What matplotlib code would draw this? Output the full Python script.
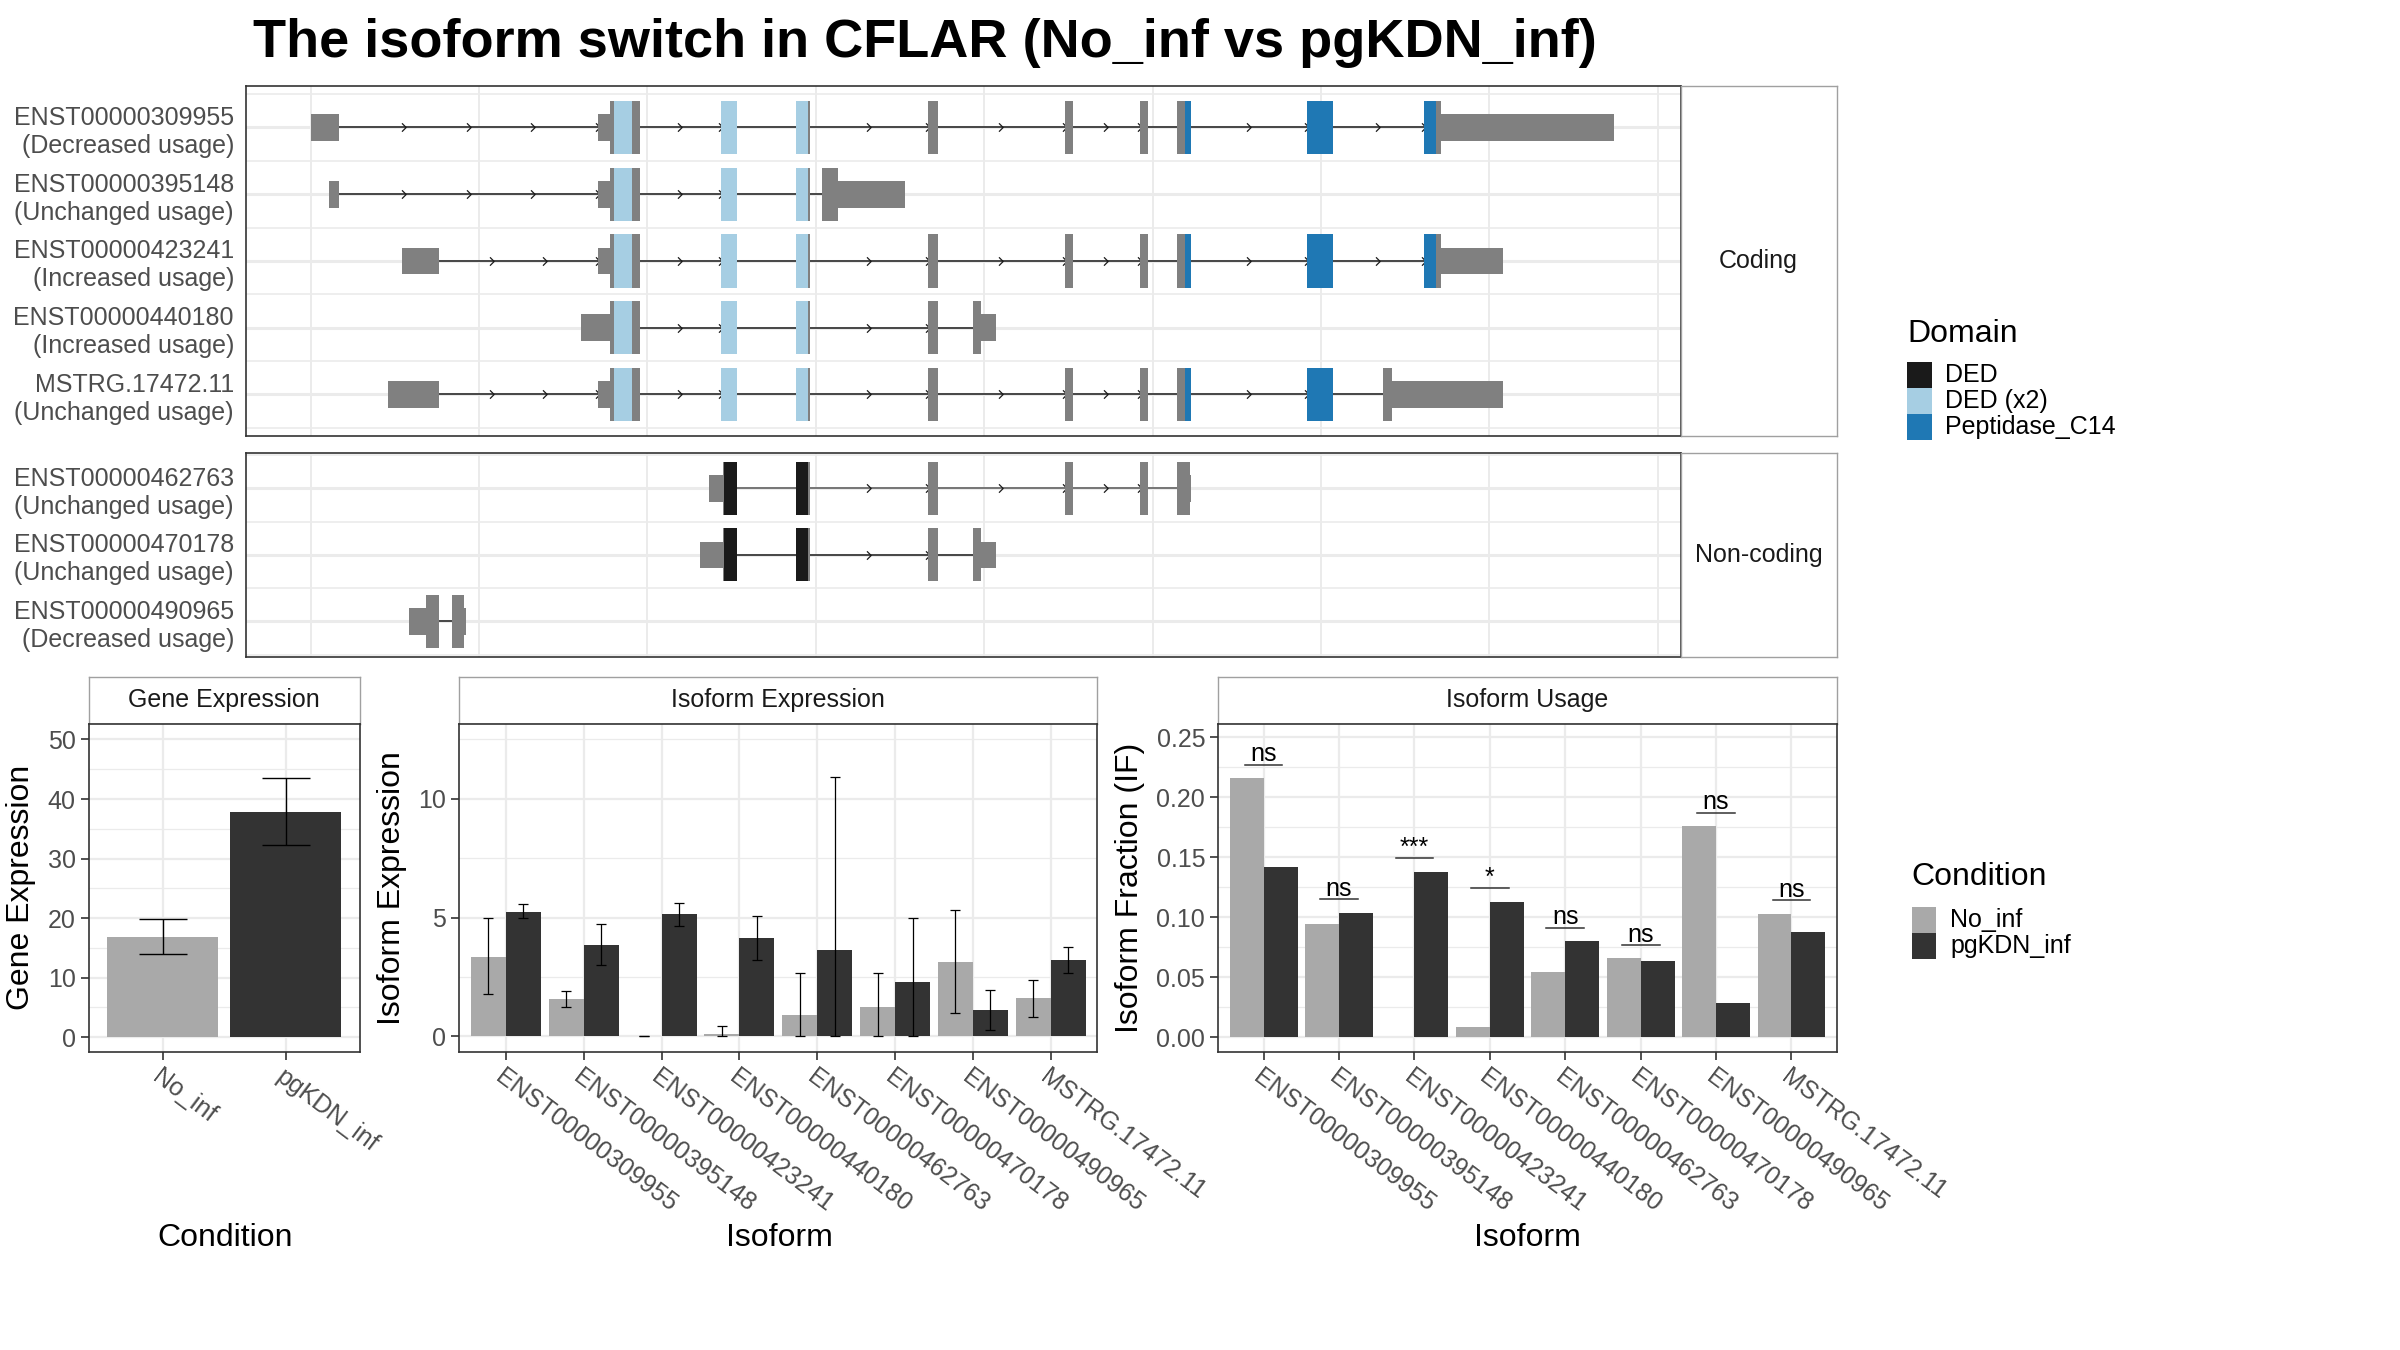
import math
import numpy as np
import matplotlib
matplotlib.use("Agg")
import matplotlib.pyplot as plt
from matplotlib.patches import Rectangle

plt.rcParams['font.family'] = ['Liberation Sans', 'DejaVu Sans']

# -----------------------------
# DATA
# -----------------------------
conditions = ['No_inf', 'pgKDN_inf']
cond_colors = ['#a9a9a9', '#333333']

gene_expr = [16.9, 37.8]
gene_lo = [14.0, 32.2]
gene_hi = [19.8, 43.5]

isoforms = ['ENST00000309955', 'ENST00000395148', 'ENST00000423241', 'ENST00000440180',
            'ENST00000462763', 'ENST00000470178', 'ENST00000490965', 'MSTRG.17472.11']

iso_no = [3.36, 1.56, 0.0, 0.11, 0.88, 1.22, 3.13, 1.60]
iso_no_lo = [1.77, 1.23, 0.0, 0.0, 0.0, 0.0, 0.99, 0.81]
iso_no_hi = [4.99, 1.91, 0.0, 0.45, 2.65, 2.66, 5.30, 2.39]
iso_pg = [5.24, 3.85, 5.13, 4.15, 3.64, 2.28, 1.09, 3.21]
iso_pg_lo = [4.99, 3.00, 4.65, 3.23, 0.0, 0.0, 0.28, 2.66]
iso_pg_hi = [5.57, 4.73, 5.60, 5.06, 10.9, 4.97, 1.93, 3.75]

usage_no = [0.216, 0.094, 0.0, 0.0087, 0.054, 0.0657, 0.1756, 0.1026]
usage_pg = [0.142, 0.1035, 0.1379, 0.1127, 0.080, 0.0632, 0.0288, 0.0875]
sig_labels = ['ns', 'ns', '***', '*', 'ns', 'ns', 'ns', 'ns']
sig_y = [0.227, 0.115, 0.149, 0.124, 0.091, 0.0767, 0.1868, 0.114]

# transcript structures (x in arbitrary genomic units, one unit per grid line)
coding_ids = ['ENST00000309955', 'ENST00000395148', 'ENST00000423241',
              'ENST00000440180', 'MSTRG.17472.11']
coding_usage = ['Decreased', 'Unchanged', 'Increased', 'Increased', 'Unchanged']
noncoding_ids = ['ENST00000462763', 'ENST00000470178', 'ENST00000490965']
noncoding_usage = ['Unchanged', 'Unchanged', 'Decreased']

exons_309955 = [(0.0, 0.17), (1.705, 1.955), (2.435, 2.529), (2.885, 2.968), (3.667, 3.724),
                (4.48, 4.525), (4.926, 4.97), (5.146, 5.229), (5.917, 6.072), (6.609, 7.743)]
exons_395148 = [(0.11, 0.17), (1.705, 1.955), (2.435, 2.529), (2.885, 2.968), (3.036, 3.527)]
exons_423241 = [(0.541, 0.76), (1.705, 1.955), (2.435, 2.529), (2.885, 2.968), (3.667, 3.724),
                (4.48, 4.525), (4.926, 4.97), (5.146, 5.229), (5.917, 6.072), (6.609, 7.081)]
exons_440180 = [(1.603, 1.955), (2.435, 2.529), (2.885, 2.968), (3.667, 3.724), (3.932, 4.068)]
exons_mstrg = [(0.457, 0.76), (1.705, 1.955), (2.435, 2.529), (2.885, 2.968), (3.667, 3.724),
               (4.48, 4.525), (4.926, 4.97), (5.146, 5.229), (5.917, 6.072), (6.37, 7.081)]
exons_462763 = [(2.367, 2.529), (2.885, 2.968), (3.667, 3.724), (4.48, 4.525),
                (4.926, 4.97), (5.146, 5.229)]
exons_470178 = [(2.31, 2.529), (2.885, 2.968), (3.667, 3.724), (3.932, 4.068)]
exons_490965 = [(0.582, 0.76), (0.839, 0.92)]

cds_coding = [(1.78, 6.711), (1.78, 3.134), (1.78, 6.711), (1.78, 3.981), (1.78, 6.423)]
cds_noncoding = [(2.447, 5.22), (2.447, 3.981), (0.684, 0.911)]

dom_ded2 = [(1.803, 1.909), (2.435, 2.529), (2.885, 2.953)]
dom_pep_full = [(5.195, 5.229), (5.917, 6.072), (6.609, 6.684)]
dom_pep_short = [(5.195, 5.229), (5.917, 6.072)]
dom_ded = [(2.457, 2.529), (2.885, 2.953)]

domain_names = ['DED', 'DED (x2)', 'Peptidase_C14']
domain_colors = ['#1a1a1a', '#a6cee3', '#1f78b4']

# -----------------------------
# STYLE
# -----------------------------
W, H = 1568.0, 882.0  # layout measured on a scaled copy
EXON = '#808080'
GRID = '#ebebeb'
BORDER = '#333333'
STRIP_EDGE = '#a0a0a0'
TICK_TXT = '#4d4d4d'
FS_TXT = 18
FS_TITLE = 23

fig = plt.figure(figsize=(24, 13.5), dpi=100)


def frect(x0, y0, x1, y1):
    return [x0 / W, 1 - y1 / H, (x1 - x0) / W, (y1 - y0) / H]


def style_panel(ax):
    for s in ax.spines.values():
        s.set_color(BORDER)
        s.set_linewidth(1.2)
    ax.set_axisbelow(True)


def add_strip(rect, text):
    sa = fig.add_axes(rect)
    sa.set_xticks([])
    sa.set_yticks([])
    for s in sa.spines.values():
        s.set_color(STRIP_EDGE)
        s.set_linewidth(1.0)
    sa.text(0.5, 0.5, text, ha='center', va='center', fontsize=FS_TXT,
            color='#1a1a1a', transform=sa.transAxes)
    return sa


chevron = [(-0.6, 1.0), (0.4, 0.0), (-0.6, -1.0)]


def draw_transcript(ax, y, exons, cds, domains, line_color='#1a1a1a'):
    ax.plot([exons[0][1], exons[-1][0]], [y, y], color=line_color, lw=1.1, zorder=2)
    for (a0, a1), (b0, b1) in zip(exons[:-1], exons[1:]):
        length = b0 - a1
        if length < 0.38:
            continue
        n = math.ceil(length / 0.385)
        xs = [b0 - k * length / n for k in range(n)]
        ax.plot(xs, [y] * n, ls='none', marker=chevron, ms=6, mec='#1a1a1a',
                mfc='none', mew=0.9, zorder=3)
    for s, e in exons:
        ax.barh(y, e - s, left=s, height=0.4, color=EXON, lw=0, zorder=4)
        cs, ce = max(s, cds[0]), min(e, cds[1])
        if ce > cs:
            ax.barh(y, ce - cs, left=cs, height=0.8, color=EXON, lw=0, zorder=4)
    for (s, e), c in domains:
        ax.barh(y, e - s, left=s, height=0.8, color=c, lw=0, zorder=5)


def structure_axes(rect, n_rows, ylim):
    ax = fig.add_axes(rect)
    style_panel(ax)
    ax.set_xlim(-0.382, 8.136)
    ax.set_ylim(*ylim)
    ax.set_xticks(np.arange(0, 9))
    ax.set_yticks(np.arange(1, n_rows + 1))
    ax.set_yticks(np.arange(0.5, n_rows + 1, 1.0), minor=True)
    ax.grid(axis='x', which='major', color=GRID, lw=1.4)
    ax.grid(axis='y', which='major', color=GRID, lw=2.2)
    ax.grid(axis='y', which='minor', color=GRID, lw=1.2)
    ax.tick_params(axis='both', which='both', length=0, labelbottom=False)
    ax.tick_params(axis='y', labelsize=FS_TXT, labelcolor=TICK_TXT, pad=9)
    return ax


# -----------------------------
# TRANSCRIPT STRUCTURE - CODING
# -----------------------------
ax_c = structure_axes(frect(161, 56, 1098, 285), 5, (0.375, 5.625))
coding_exons = [exons_309955, exons_395148, exons_423241, exons_440180, exons_mstrg]
coding_doms = [
    [(d, domain_colors[1]) for d in dom_ded2] + [(d, domain_colors[2]) for d in dom_pep_full],
    [(d, domain_colors[1]) for d in dom_ded2],
    [(d, domain_colors[1]) for d in dom_ded2] + [(d, domain_colors[2]) for d in dom_pep_full],
    [(d, domain_colors[1]) for d in dom_ded2],
    [(d, domain_colors[1]) for d in dom_ded2] + [(d, domain_colors[2]) for d in dom_pep_short],
]
n_c = len(coding_ids)
for i in range(n_c):
    draw_transcript(ax_c, n_c - i, coding_exons[i], cds_coding[i], coding_doms[i])
ax_c.set_yticklabels([f"{t}\n({u} usage)" for t, u in zip(coding_ids, coding_usage)][::-1],
                     linespacing=1.2)
add_strip(frect(1098, 56, 1200, 285), 'Coding')

# -----------------------------
# TRANSCRIPT STRUCTURE - NON-CODING
# -----------------------------
ax_n = structure_axes(frect(161, 296, 1098, 429), 3, (0.47, 3.53))
noncoding_exons = [exons_462763, exons_470178, exons_490965]
noncoding_doms = [
    [(d, domain_colors[0]) for d in dom_ded],
    [(d, domain_colors[0]) for d in dom_ded],
    [],
]
noncoding_line = ['#555555', '#1a1a1a', '#1a1a1a']
n_n = len(noncoding_ids)
for i in range(n_n):
    draw_transcript(ax_n, n_n - i, noncoding_exons[i], cds_noncoding[i], noncoding_doms[i],
                    noncoding_line[i])
ax_n.set_yticklabels([f"{t}\n({u} usage)" for t, u in zip(noncoding_ids, noncoding_usage)][::-1],
                     linespacing=1.2)
add_strip(frect(1098, 296, 1200, 429), 'Non-coding')


# -----------------------------
# BOTTOM PANELS
# -----------------------------
def bar_axes(x0, x1, strip_text):
    add_strip(frect(x0, 442, x1, 473), strip_text)
    ax = fig.add_axes(frect(x0, 473, x1, 687))
    style_panel(ax)
    ax.grid(which='major', color=GRID, lw=1.6)
    ax.grid(axis='y', which='minor', color=GRID, lw=0.9)
    ax.tick_params(axis='both', which='major', direction='out', length=6, width=1.2,
                   color=BORDER, labelsize=FS_TXT, labelcolor=TICK_TXT)
    ax.tick_params(axis='both', which='minor', length=0)
    return ax


# Gene expression
ax_g = bar_axes(58, 235, 'Gene Expression')
xg = np.arange(1, 3)
ax_g.bar(xg, gene_expr, width=0.9, color=cond_colors, zorder=2)
ax_g.errorbar(xg, gene_expr,
              yerr=[np.array(gene_expr) - np.array(gene_lo), np.array(gene_hi) - np.array(gene_expr)],
              fmt='none', ecolor='black', elinewidth=1.0, capsize=17, capthick=1.0, zorder=3)
ax_g.set_xlim(0.4, 2.6)
ax_g.set_ylim(-2.4, 52.6)
ax_g.set_yticks(np.arange(0, 51, 10))
ax_g.set_yticks(np.arange(5, 51, 10), minor=True)
ax_g.set_xticks(xg)
ax_g.set_xticklabels(conditions, rotation=-37, ha='left', va='top', rotation_mode='anchor')

# Isoform expression
ax_i = bar_axes(300, 717, 'Isoform Expression')
xi = np.arange(1, len(isoforms) + 1)
ax_i.bar(xi - 0.225, iso_no, width=0.45, color=cond_colors[0], zorder=2)
ax_i.bar(xi + 0.225, iso_pg, width=0.45, color=cond_colors[1], zorder=2)
ax_i.errorbar(xi - 0.225, iso_no,
              yerr=[np.array(iso_no) - np.array(iso_no_lo), np.array(iso_no_hi) - np.array(iso_no)],
              fmt='none', ecolor='black', elinewidth=0.9, capsize=3.5, capthick=0.9, zorder=3)
ax_i.errorbar(xi + 0.225, iso_pg,
              yerr=[np.array(iso_pg) - np.array(iso_pg_lo), np.array(iso_pg_hi) - np.array(iso_pg)],
              fmt='none', ecolor='black', elinewidth=0.9, capsize=3.5, capthick=0.9, zorder=3)
ax_i.set_xlim(0.4, len(isoforms) + 0.6)
ax_i.set_ylim(-0.64, 13.15)
ax_i.set_yticks([0, 5, 10])
ax_i.set_yticks([2.5, 7.5, 12.5], minor=True)
ax_i.set_xticks(xi)
ax_i.set_xticklabels(isoforms, rotation=-37, ha='left', va='top', rotation_mode='anchor')

# Isoform usage
ax_u = bar_axes(796, 1200, 'Isoform Usage')
ax_u.bar(xi - 0.225, usage_no, width=0.45, color=cond_colors[0], zorder=2)
ax_u.bar(xi + 0.225, usage_pg, width=0.45, color=cond_colors[1], zorder=2)
for x, yv, lab in zip(xi, sig_y, sig_labels):
    ax_u.plot([x - 0.25, x + 0.25], [yv, yv], color='#333333', lw=1.1, zorder=3)
    ax_u.text(x, yv + 0.003, lab, ha='center', va='baseline', fontsize=FS_TXT, color='black')
ax_u.set_xlim(0.4, len(isoforms) + 0.6)
ax_u.set_ylim(-0.012, 0.261)
ax_u.set_yticks(np.arange(0, 0.26, 0.05))
ax_u.set_yticklabels([f"{v:.2f}" for v in np.arange(0, 0.26, 0.05)])
ax_u.set_yticks(np.arange(0.025, 0.26, 0.05), minor=True)
ax_u.set_xticks(xi)
ax_u.set_xticklabels(isoforms, rotation=-37, ha='left', va='top', rotation_mode='anchor')

# axis titles
fig.text(14 / W, 1 - 580 / H, 'Gene Expression', rotation=90, ha='center', va='center', fontsize=FS_TITLE)
fig.text(256 / W, 1 - 580 / H, 'Isoform Expression', rotation=90, ha='center', va='center', fontsize=FS_TITLE)
fig.text(738 / W, 1 - 580 / H, 'Isoform Fraction (IF)', rotation=90, ha='center', va='center', fontsize=FS_TITLE)
fig.text(147 / W, 1 - 809 / H, 'Condition', ha='center', va='center', fontsize=FS_TITLE)
fig.text(509 / W, 1 - 809 / H, 'Isoform', ha='center', va='center', fontsize=FS_TITLE)
fig.text(998 / W, 1 - 809 / H, 'Isoform', ha='center', va='center', fontsize=FS_TITLE)

# -----------------------------
# LEGENDS
# -----------------------------
def legend(x, y_title, rows_y, names, colors, title):
    fig.text(x / W, 1 - y_title / H, title, ha='left', va='center', fontsize=FS_TITLE)
    for ry, nm, col in zip(rows_y, names, colors):
        fig.patches.append(Rectangle((x / W, 1 - (ry + 8.5) / H), 16 / W, 17 / H,
                                     transform=fig.transFigure, facecolor=col, edgecolor='none'))
        fig.text((x + 25) / W, 1 - ry / H, nm, ha='left', va='center', fontsize=FS_TXT)


legend(1246, 218, [245, 262, 279], domain_names, domain_colors, 'Domain')
legend(1249, 573, [601, 618], conditions, cond_colors, 'Condition')

# -----------------------------
# TITLE
# -----------------------------
fig.text(165 / W, 1 - 28 / H, 'The isoform switch in CFLAR (No_inf vs pgKDN_inf)',
         ha='left', va='center', fontsize=39, fontweight='bold')

fig.savefig('out.png', dpi=100)
